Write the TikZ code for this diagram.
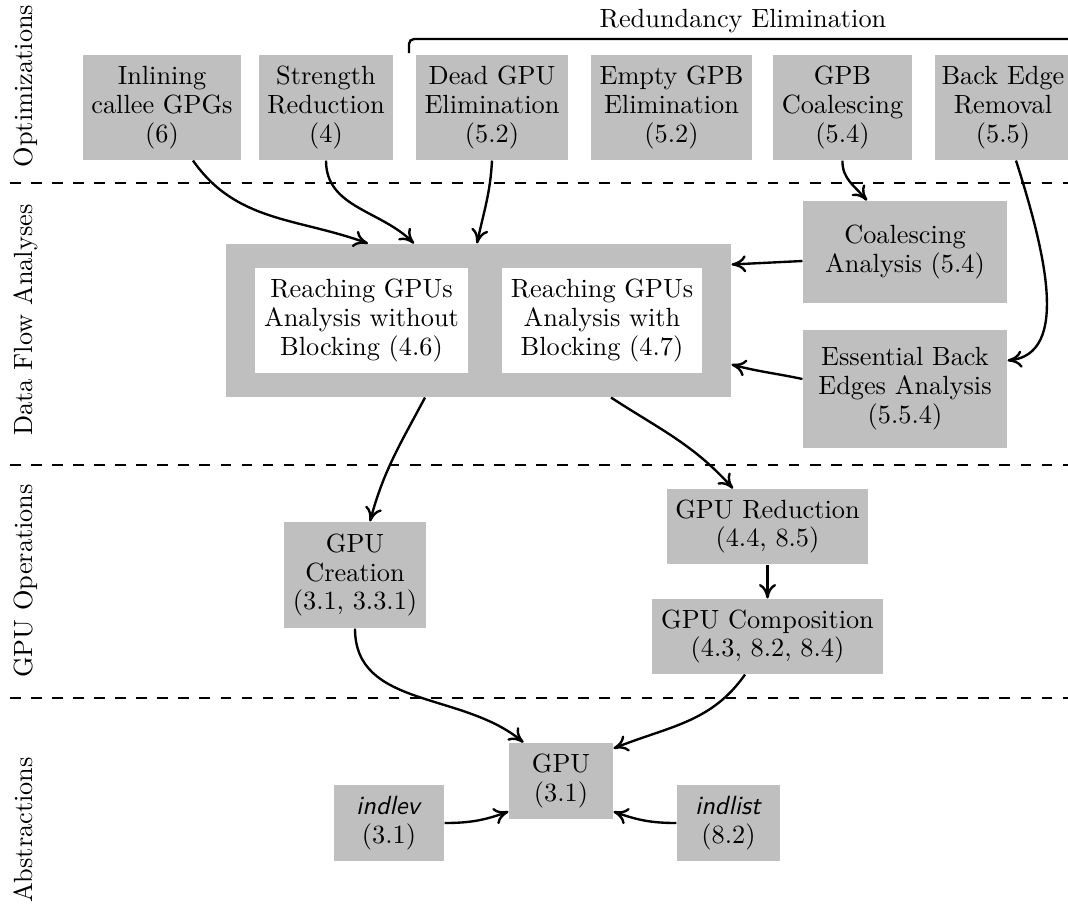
\documentclass[tikz,border=0pt]{standalone}
\usetikzlibrary{arrows.meta,calc}
\begin{document}
\begin{tikzpicture}[x=0.38pt,y=-0.38pt,
  every node/.style={font=\fontsize{10}{11}\selectfont},
  blk/.style={fill=black!25, inner sep=0pt, align=center},
  wbox/.style={fill=white, inner sep=0pt, align=center},
  sz/.style 2 args={minimum width=#1*0.38pt, minimum height=#2*0.38pt},
  conn/.style={line width=0.9pt, -{Computer Modern Rightarrow[length=5.5pt,width=6.5pt]}},
  sep/.style={line width=0.9pt, dash pattern=on 4pt off 4pt},
  lane/.style={rotate=90, anchor=base}]
\useasboundingbox (0,0) rectangle (1068,907);

% lane separators and lane titles
\draw[sep] (10,183) -- (1068,183);
\draw[sep] (10,465) -- (1068,465);
\draw[sep] (10,698) -- (1068,698);
\node[lane] (lopt) at (32,86) {Optimizations};
\node[lane] (ldfa) at (32,320) {Data Flow Analyses};
\node[lane] (lops) at (32,581) {GPU Operations};
\node[lane] (labs) at (32,830) {Abstractions};

% optimizations
\node[blk, sz={158}{105}] (inl)   at (162,107.5)  {Inlining\\callee GPGs\\(6)};
\node[blk, sz={134}{105}] (str)   at (326,107.5)  {Strength\\Reduction\\(4)};
\node[blk, sz={152}{105}] (dead)  at (492,107.5)  {Dead GPU\\Elimination\\(5.2)};
\node[blk, sz={161}{105}] (empty) at (671.5,107.5){Empty GPB\\Elimination\\(5.2)};
\node[blk, sz={139}{105}] (coal)  at (842.5,107.5){GPB\\Coalescing\\(5.4)};
\node[blk, sz={136}{105}] (back)  at (1003,107.5) {Back Edge\\Removal\\(5.5)};
\node[anchor=base] (red-el) at (743,27) {Redundancy Elimination};
\draw[line width=0.9pt, rounded corners=1.9pt] (409,53) -- (409,39) -- (1075,39);

% data flow analyses
\node[blk, sz={505}{153}] (big) at (478.5,320.5) {};
\node[wbox, sz={213}{105}] (rga) at (361.5,320.5) {Reaching GPUs\\Analysis without\\Blocking (4.6)};
\node[wbox, sz={200}{105}] (rgb) at (602,320.5) {Reaching GPUs\\Analysis with\\Blocking (4.7)};
\node[blk, sz={204}{102}] (coalA) at (905,252) {Coalescing\\Analysis (5.4)};
\node[blk, sz={204}{118}] (ess) at (905,389) {Essential Back\\Edges Analysis\\(5.5.4)};

% GPU operations
\node[blk, sz={142}{106}] (create) at (355,575) {GPU\\Creation\\(3.1, 3.3.1)};
\node[blk, sz={201}{75}] (red) at (767.5,526.5) {GPU Reduction\\(4.4, 8.5)};
\node[blk, sz={231}{75}] (comp) at (767.5,636.5) {GPU Composition\\(4.3, 8.2, 8.4)};

% abstractions
\node[blk, sz={104}{76}] (gpu) at (561,781) {GPU\\(3.1)};
\node[blk, sz={110}{76}] (indlev) at (389,823) {\textsf{\textit{indlev}}\\(3.1)};
\node[blk, sz={103}{76}] (indlist) at (728.5,823) {\textsf{\textit{indlist}}\\(8.2)};

% connectors
\draw[conn] ($(inl.south)+(31,0)$) to[out=-55, in=160] ($(big.north)+(-110.5,0)$);
\draw[conn] (str.south) to[out=-90, in=135] ($(big.north)+(-64.5,0)$);
\draw[conn] (dead.south) to[out=-93, in=78] ($(big.north)+(-1.5,0)$);
\draw[conn] (coal.south) to[out=-92, in=130] ($(coalA.north)+(-38,0)$);
\draw[conn] ($(back.south)+(13,0)$) .. controls +(29,91) and +(63,-6) .. ($(ess.north east)+(0,31)$);
\draw[conn] ($(coalA.west)+(0,9)$) -- ($(big.north east)+(0,21)$);
\draw[conn] ($(ess.west)+(0,-10)$) to[out=168, in=-15] ($(big.north east)+(0,121)$);
\draw[conn] ($(big.south)+(-53.5,0)$) to[out=-118, in=75] ($(create.north)+(15,0)$);
\draw[conn] ($(big.south)+(132.5,0)$) to[out=-33, in=132] ($(red.north)+(-34.5,0)$);
\draw[conn] (red.south) -- (comp.north);
\draw[conn] (create.south) to[out=-90, in=140] ($(gpu.north west)+(15,0)$);
\draw[conn] ($(comp.south)+(-22.5,0)$) to[out=-125, in=22] ($(gpu.north east)+(0,6)$);
\draw[conn] (indlev.east) to[out=0, in=-160] ($(gpu.south west)+(0,-8)$);
\draw[conn] (indlist.west) to[out=180, in=-20] ($(gpu.south east)+(0,-8)$);
\end{tikzpicture}
\end{document}
